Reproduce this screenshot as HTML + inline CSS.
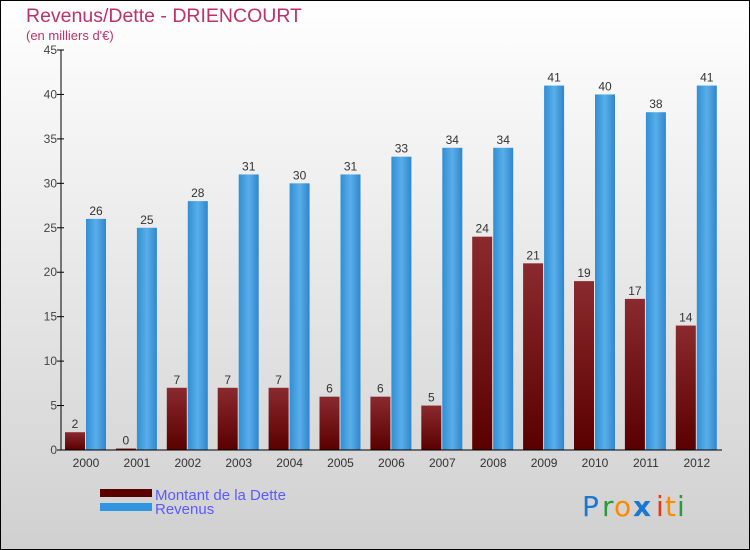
<!DOCTYPE html>
<html><head><meta charset="utf-8"><style>
body{margin:0;width:750px;height:550px;overflow:hidden;font-family:"Liberation Sans",sans-serif}
svg{display:block}
</style></head><body>
<svg width="750" height="550" xmlns="http://www.w3.org/2000/svg">
<defs>
<linearGradient id="bg" x1="0" y1="0" x2="0" y2="1"><stop offset="0" stop-color="#ffffff"/><stop offset="1" stop-color="#d0d0d0"/></linearGradient>
<linearGradient id="red" x1="0" y1="0" x2="0" y2="1"><stop offset="0" stop-color="#8a2a2e"/><stop offset="1" stop-color="#5a0000"/></linearGradient>
<linearGradient id="blue" x1="0" y1="0" x2="1" y2="0"><stop offset="0" stop-color="#2f8fd6"/><stop offset="0.5" stop-color="#5aaee8"/><stop offset="1" stop-color="#2f86cc"/></linearGradient>
</defs>
<rect x="0.5" y="0.5" width="749" height="549" fill="url(#bg)" stroke="#000"/>
<text x="26" y="22" font-size="19.5" fill="#c0306a">Revenus/Dette - DRIENCOURT</text>
<text x="26" y="40" font-size="13" fill="#c0306a">(en milliers d'€)</text>
<g id="plot"></g>
<g>
<rect x="100" y="489" width="52" height="8" fill="#5a0000"/>
<text x="155" y="500" font-size="15" fill="#5a5aff">Montant de la Dette</text>
<rect x="100" y="503" width="52" height="8" fill="#2f95e0"/>
<text x="155" y="514" font-size="15" fill="#5a5aff">Revenus</text>
</g>
<g font-size="28" font-family="'DejaVu Sans',sans-serif">
<text x="582" y="516" fill="#1a78d0">P</text><text x="602" y="516" fill="#2a9a3a">r</text><text x="614" y="516" fill="#ff8800">o</text><text x="633" y="516" fill="#1a78d0" font-weight="bold">x</text><text x="656" y="516" fill="#ee3311">i</text><text x="665" y="516" fill="#ff8800">t</text><text x="677" y="516" fill="#2a9a3a">i</text>
</g>
</svg>
<script>
const years=["2000","2001","2002","2003","2004","2005","2006","2007","2008","2009","2010","2011","2012"];
const dette=[2,0,7,7,7,6,6,5,24,21,19,17,14];
const revenus=[26,25,28,31,30,31,33,34,34,41,40,38,41];
const yTicks=[0,5,10,15,20,25,30,35,40,45];
const NS="http://www.w3.org/2000/svg";
const g=document.getElementById('plot');


const y0=450,yMax=45,plotH=400,x0=61,step=50.9;
const ys=v=>y0-v/yMax*plotH;
const xs=i=>x0+step*i;
function el(t,a,txt){const e=document.createElementNS(NS,t);for(const k in a)e.setAttribute(k,a[k]);if(txt!==undefined)e.textContent=txt;g.appendChild(e);return e;}
years.forEach((yr,i)=>{
  const b=xs(i);
  const hd=Math.max(dette[i]/yMax*plotH,1.5);
  const r=el('rect',{x:b+4,y:y0-hd,width:20,height:hd,fill:'url(#red)'});
  
  
  const t1=el('text',{x:b+14,y:y0-hd-4,'font-size':12,fill:'#333','text-anchor':'middle'},String(dette[i]));
  
  
  const hr=revenus[i]/yMax*plotH;
  const bl=el('rect',{x:b+25,y:y0-hr,width:20,height:hr,fill:'url(#blue)'});
  
  
  const t2=el('text',{x:b+35,y:y0-hr-4,'font-size':12,fill:'#333','text-anchor':'middle'},String(revenus[i]));
  
  
  const xl=el('text',{x:b+25,y:467,'font-size':12,fill:'#333','text-anchor':'middle'},yr);
  
  
});
yTicks.forEach(v=>{
  const y=ys(v);
  const tk=el('line',{x1:x0-4,x2:x0+3,y1:y,y2:y,stroke:'#000'});
  
  
  const l=el('text',{x:x0-4,y:y+4,'font-size':12,fill:'#444','text-anchor':'end'},String(v));
  
  
});
const ya=el('line',{x1:x0,x2:x0,y1:ys(yMax),y2:y0,stroke:'#000'});


const xa=el('line',{x1:x0,x2:722,y1:y0,y2:y0,stroke:'#000'});


</script>
</body></html>
